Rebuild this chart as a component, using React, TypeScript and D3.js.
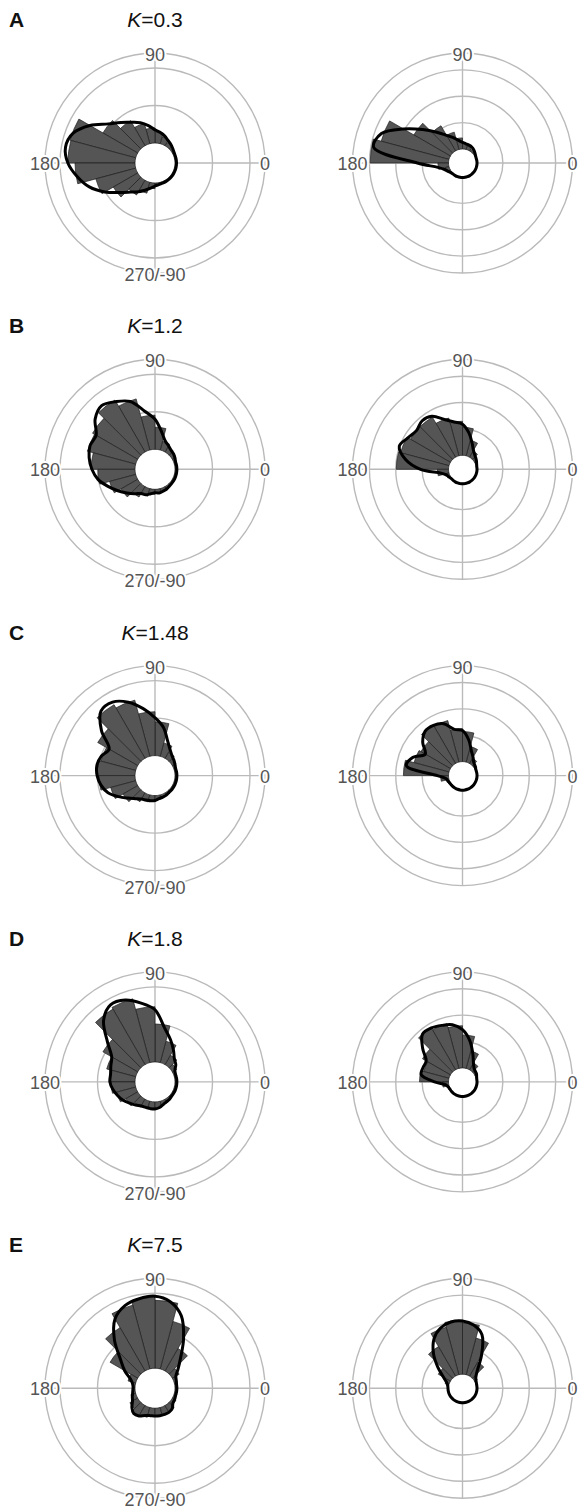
import React from "react";
import * as d3 from "d3";

// Panel identifiers and concentration parameter per row
const panelLetters = ["A", "B", "C", "D", "E"];
const kValues = ["0.3", "1.2", "1.48", "1.8", "7.5"];

// Histogram bins are 15° wide starting at 0°; model curves are sampled every 10°
const BIN_DEG = 15;
const CURVE_DEG = 10;

// ---- Left column (rings at 1, 2) ----
const leftBarsA = [0.03, 0.03, 0.04, 0.1, 0.19, 0.29, 0.4, 0.56, 0.77, 1.07, 1.81, 1.79, 1.6, 1.1, 0.75, 0.45, 0.3, 0.15, 0.06, 0.03, 0.03, 0.03, 0.03, 0.03];
const leftCurveA = [0.04, 0.04, 0.04, 0.05, 0.08, 0.12, 0.16, 0.23, 0.29, 0.35, 0.48, 0.61, 0.72, 0.88, 1.09, 1.47, 1.79, 1.89, 1.79, 1.57, 1.33, 1.01, 0.69, 0.48, 0.35, 0.24, 0.15, 0.08, 0.05, 0.04, 0.04, 0.04, 0.04, 0.04, 0.04, 0.04];

const leftBarsB = [0.05, 0.05, 0.11, 0.16, 0.24, 0.59, 0.91, 1.41, 1.6, 1.39, 1.33, 1.17, 0.99, 0.72, 0.51, 0.32, 0.21, 0.13, 0.11, 0.08, 0.05, 0.05, 0.05, 0.05];
const leftCurveB = [0.05, 0.05, 0.05, 0.08, 0.11, 0.13, 0.19, 0.27, 0.48, 0.8, 1.04, 1.39, 1.55, 1.68, 1.55, 1.28, 1.31, 1.25, 1.15, 1.01, 0.8, 0.61, 0.45, 0.32, 0.21, 0.19, 0.13, 0.09, 0.11, 0.09, 0.08, 0.06, 0.05, 0.05, 0.05, 0.05];

const leftBarsC = [0.05, 0.05, 0.11, 0.19, 0.37, 0.9, 1.17, 1.55, 1.65, 1.23, 0.96, 1.01, 0.96, 0.69, 0.45, 0.27, 0.19, 0.16, 0.11, 0.08, 0.05, 0.05, 0.05, 0.05];
const leftCurveC = [0.05, 0.05, 0.05, 0.08, 0.12, 0.17, 0.27, 0.45, 0.77, 1.01, 1.28, 1.55, 1.73, 1.71, 1.33, 0.88, 0.99, 1.04, 1.01, 0.93, 0.8, 0.59, 0.4, 0.27, 0.19, 0.16, 0.15, 0.13, 0.09, 0.08, 0.07, 0.05, 0.05, 0.05, 0.05, 0.05];

const leftBarsD = [0.05, 0.07, 0.13, 0.29, 0.59, 1.01, 1.47, 1.76, 1.71, 1.07, 0.8, 0.67, 0.64, 0.53, 0.37, 0.24, 0.19, 0.16, 0.16, 0.11, 0.07, 0.05, 0.05, 0.05];
const leftCurveD = [0.05, 0.05, 0.05, 0.08, 0.19, 0.27, 0.45, 0.67, 0.93, 1.39, 1.6, 1.79, 1.84, 1.6, 1.12, 0.8, 0.72, 0.67, 0.67, 0.61, 0.53, 0.45, 0.35, 0.27, 0.21, 0.19, 0.19, 0.19, 0.16, 0.11, 0.08, 0.07, 0.05, 0.05, 0.05, 0.05];

const leftBarsE = [0.05, 0.08, 0.21, 0.69, 1.31, 1.81, 1.89, 1.76, 1.33, 0.85, 0.21, 0.07, 0.08, 0.13, 0.24, 0.32, 0.27, 0.21, 0.21, 0.21, 0.19, 0.11, 0.07, 0.05];
const leftCurveE = [0.05, 0.05, 0.07, 0.11, 0.27, 0.53, 0.99, 1.52, 1.81, 1.92, 1.89, 1.81, 1.6, 1.15, 0.67, 0.4, 0.16, 0.07, 0.05, 0.07, 0.11, 0.16, 0.27, 0.35, 0.32, 0.24, 0.21, 0.21, 0.21, 0.21, 0.21, 0.18, 0.09, 0.07, 0.05, 0.05];

// ---- Right column (rings at 1, 2, 3) ----
const rightBarsA = [0.02, 0.02, 0.04, 0.08, 0.15, 0.23, 0.42, 0.68, 1.1, 1.6, 2.66, 2.97, 0.4, 0.15, 0.04, 0.01, 0.01, 0.01, 0.01, 0.01, 0.01, 0.01, 0.01, 0.01];
const rightCurveA = [0.02, 0.02, 0.02, 0.04, 0.08, 0.13, 0.17, 0.19, 0.21, 0.25, 0.34, 0.49, 0.68, 0.99, 1.44, 2.05, 2.74, 2.89, 1.18, 0.42, 0.19, 0.1, 0.04, 0.02, 0.02, 0.02, 0.02, 0.02, 0.02, 0.02, 0.02, 0.02, 0.02, 0.02, 0.02, 0.02];

const rightBarsB = [0.02, 0.04, 0.11, 0.27, 0.61, 1.06, 1.29, 1.48, 1.75, 1.75, 1.9, 1.98, 0.42, 0.11, 0.04, 0.01, 0.01, 0.01, 0.01, 0.01, 0.01, 0.01, 0.01, 0.01];
const rightCurveB = [0.02, 0.02, 0.04, 0.08, 0.13, 0.19, 0.3, 0.53, 0.87, 1.18, 1.29, 1.48, 1.79, 1.86, 1.75, 1.86, 2.02, 1.67, 1.06, 0.3, 0.11, 0.06, 0.02, 0.02, 0.02, 0.02, 0.02, 0.02, 0.02, 0.02, 0.02, 0.02, 0.02, 0.02, 0.02, 0.02];

const rightBarsC = [0.02, 0.04, 0.1, 0.23, 0.61, 1.14, 1.25, 1.63, 1.67, 1.29, 1.37, 1.71, 0.3, 0.08, 0.04, 0.01, 0.01, 0.01, 0.01, 0.01, 0.01, 0.01, 0.01, 0.01];
const rightCurveC = [0.02, 0.02, 0.02, 0.04, 0.08, 0.13, 0.27, 0.46, 0.84, 1.18, 1.25, 1.56, 1.67, 1.67, 1.44, 1.1, 1.48, 1.63, 0.42, 0.11, 0.06, 0.03, 0.02, 0.02, 0.02, 0.02, 0.02, 0.02, 0.02, 0.02, 0.02, 0.02, 0.02, 0.02, 0.02, 0.02];

const rightBarsD = [0.02, 0.04, 0.11, 0.3, 0.68, 1.25, 1.6, 1.75, 1.83, 1.22, 0.99, 1.1, 0.23, 0.06, 0.01, 0.01, 0.01, 0.01, 0.01, 0.01, 0.01, 0.01, 0.01, 0.01];
const rightCurveD = [0.02, 0.02, 0.04, 0.08, 0.1, 0.15, 0.3, 0.61, 1.06, 1.45, 1.67, 1.75, 1.83, 1.83, 1.44, 1.06, 1.06, 1.06, 0.53, 0.11, 0.04, 0.02, 0.02, 0.02, 0.02, 0.02, 0.02, 0.02, 0.02, 0.02, 0.02, 0.02, 0.02, 0.02, 0.02, 0.02];

const rightBarsE = [0.02, 0.04, 0.11, 0.61, 1.44, 1.94, 2.05, 1.86, 1.29, 0.53, 0.15, 0.04, 0.01, 0.01, 0.01, 0.01, 0.01, 0.01, 0.01, 0.01, 0.01, 0.01, 0.01, 0.01];
const rightCurveE = [0.02, 0.02, 0.03, 0.06, 0.13, 0.34, 0.91, 1.63, 1.9, 2.02, 2.02, 1.9, 1.63, 1.18, 0.68, 0.3, 0.11, 0.04, 0.02, 0.02, 0.02, 0.02, 0.02, 0.02, 0.02, 0.02, 0.02, 0.02, 0.02, 0.02, 0.02, 0.02, 0.02, 0.02, 0.02, 0.02];

const leftBars = [leftBarsA, leftBarsB, leftBarsC, leftBarsD, leftBarsE];
const leftCurves = [leftCurveA, leftCurveB, leftCurveC, leftCurveD, leftCurveE];
const rightBars = [rightBarsA, rightBarsB, rightBarsC, rightBarsD, rightBarsE];
const rightCurves = [rightCurveA, rightCurveB, rightCurveC, rightCurveD, rightCurveE];

const leftRings = [1, 2];
const rightRings = [1, 2, 3];

// ---- Layout ----
const WIDTH = 579;
const HEIGHT = 1510;
const LEFT_CX = 155;
const RIGHT_CX = 462.5;
const FIRST_CY = 163;
const ROW_GAP = 306.3;
const OUTER_R = 110;

const FONT = "'Liberation Sans', Arial, Helvetica, sans-serif";
const GRID = "#bababa";
const LABEL = "#555555";

// Radial scales: zero sits on the edge of the central hole
const leftScale = d3.scaleLinear().domain([0, 2.4]).range([20, OUTER_R]);
const rightScale = d3.scaleLinear().domain([0, 3.64]).range([14, OUTER_R]);

// polar degrees (0 = east, counter-clockwise) -> d3 radians (0 = north, clockwise)
const toD3 = (deg: number) => ((90 - deg) * Math.PI) / 180;

type PolarProps = {
  cx: number;
  cy: number;
  scale: d3.ScaleLinear<number, number>;
  rings: number[];
  bars: number[];
  curve: number[];
  bottomLabel: boolean;
};

function AxisLabel({ x, y, text }: { x: number; y: number; text: string }) {
  return (
    <text
      x={x}
      y={y}
      textAnchor="middle"
      dominantBaseline="central"
      fontFamily={FONT}
      fontSize={18}
      fill={LABEL}
      stroke="#fff"
      strokeWidth={4}
      style={{ paintOrder: "stroke" }}
    >
      {text}
    </text>
  );
}

function Polar({ cx, cy, scale, rings, bars, curve, bottomLabel }: PolarProps) {
  const hole = scale(0);
  const arc = d3.arc<any>();
  const line = d3
    .lineRadial<number>()
    .angle((_, i) => toD3(i * CURVE_DEG))
    .radius((d) => scale(d))
    .curve(d3.curveCatmullRomClosed.alpha(0.5));

  return (
    <g transform={`translate(${cx},${cy})`}>
      {/* grid */}
      {rings.map((v) => (
        <circle key={v} r={scale(v)} fill="none" stroke={GRID} strokeWidth={1.4} />
      ))}
      <circle r={OUTER_R} fill="none" stroke={GRID} strokeWidth={1.4} />
      <line x1={-OUTER_R} x2={OUTER_R} y1={0} y2={0} stroke={GRID} strokeWidth={1.4} />
      <line x1={0} x2={0} y1={-OUTER_R} y2={OUTER_R} stroke={GRID} strokeWidth={1.4} />
      <circle r={hole} fill="#fff" />

      {/* observed histogram */}
      {bars.map((v, i) => (
        <path
          key={i}
          d={
            arc({
              innerRadius: hole,
              outerRadius: scale(v),
              startAngle: toD3((i + 1) * BIN_DEG),
              endAngle: toD3(i * BIN_DEG),
            }) as string
          }
          fill="#555555"
          stroke="#1e1e1e"
          strokeWidth={0.7}
        />
      ))}

      {/* model density */}
      <path d={line(curve) as string} fill="none" stroke="#000" strokeWidth={3} strokeLinejoin="round" />

      {/* angle labels */}
      <AxisLabel x={0} y={-OUTER_R + 2} text="90" />
      <AxisLabel x={-OUTER_R} y={1} text="180" />
      <AxisLabel x={OUTER_R} y={1} text="0" />
      {bottomLabel && <AxisLabel x={0} y={OUTER_R + 2} text="270/-90" />}
    </g>
  );
}

export default function App() {
  return (
    <svg
      width={WIDTH}
      height={HEIGHT}
      viewBox={`0 0 ${WIDTH} ${HEIGHT}`}
      style={{ position: "absolute", left: 0, top: 0, background: "#fff" }}
    >
      <rect width={WIDTH} height={HEIGHT} fill="#fff" />
      {panelLetters.map((letter, i) => {
        const cy = FIRST_CY + i * ROW_GAP;
        return (
          <g key={letter}>
            <text x={9} y={cy - 136} fontFamily={FONT} fontWeight="bold" fontSize={21} fill="#111">
              {letter}
            </text>
            <text x={LEFT_CX} y={cy - 136} textAnchor="middle" fontFamily={FONT} fontSize={21} fill="#111">
              <tspan fontStyle="italic">K</tspan>={kValues[i]}
            </text>
            <Polar
              cx={LEFT_CX}
              cy={cy}
              scale={leftScale}
              rings={leftRings}
              bars={leftBars[i]}
              curve={leftCurves[i]}
              bottomLabel={true}
            />
            <Polar
              cx={RIGHT_CX}
              cy={cy}
              scale={rightScale}
              rings={rightRings}
              bars={rightBars[i]}
              curve={rightCurves[i]}
              bottomLabel={false}
            />
          </g>
        );
      })}
    </svg>
  );
}
